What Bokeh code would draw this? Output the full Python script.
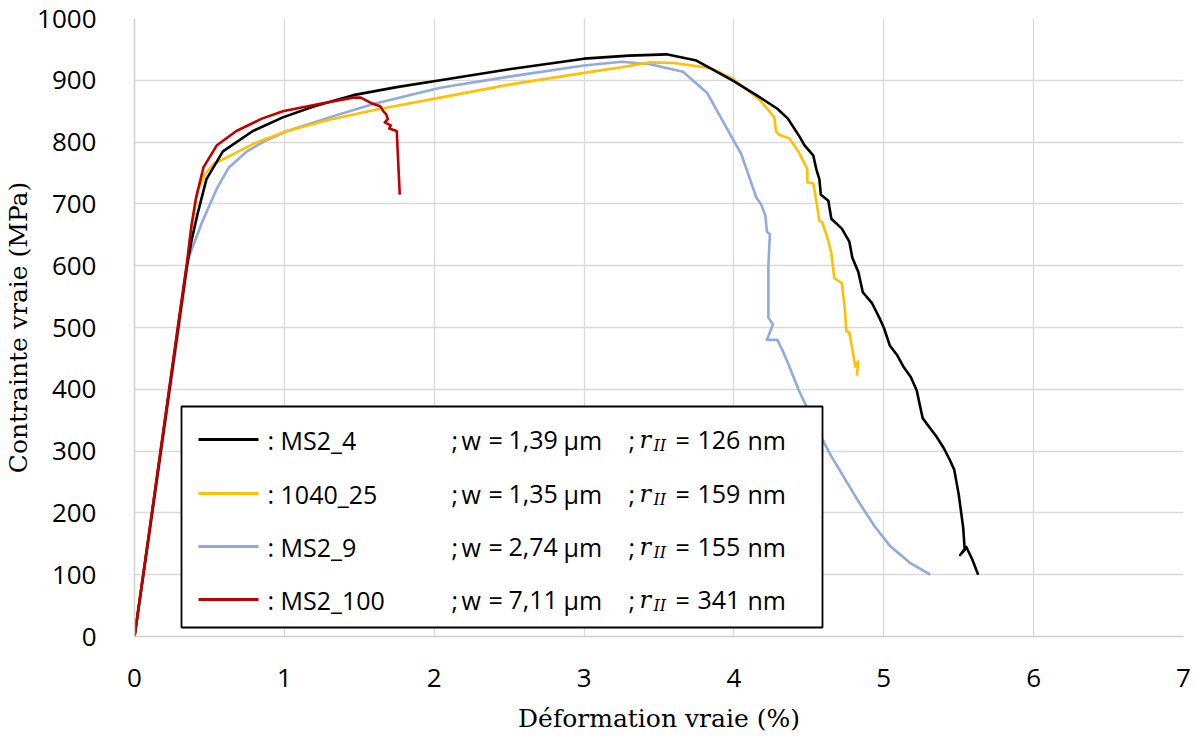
from bokeh.plotting import figure
from bokeh.models import BoxAnnotation, Arrow, Label, Range1d, FixedTicker
from bokeh.embed import file_html
from bokeh.resources import INLINE

# ---------------- data ----------------
ms2_4_x = [0, 0.10, 0.20, 0.30, 0.35, 0.38, 0.42, 0.48, 0.59, 0.79, 0.99, 1.20, 1.46, 1.75, 2.04, 2.50,
           3.00, 3.30, 3.55, 3.75, 3.99, 4.15, 4.29, 4.36, 4.44, 4.47, 4.53, 4.55, 4.57, 4.58, 4.63, 4.65,
           4.72, 4.77, 4.79, 4.83, 4.86, 4.92, 4.97, 5.00, 5.04, 5.09, 5.13, 5.18, 5.22, 5.24, 5.26, 5.30,
           5.35, 5.40, 5.44, 5.47, 5.50, 5.53, 5.54, 5.51, 5.55, 5.59, 5.63]
ms2_4_y = [0, 170, 343, 515, 600, 640, 683, 740, 785, 818, 840, 858, 876, 889, 900, 918,
           935, 940, 942, 932, 900, 876, 854, 838, 808, 795, 778, 756, 740, 715, 705, 676,
           660, 639, 613, 590, 557, 540, 516, 500, 471, 455, 437, 420, 398, 375, 353, 340,
           324, 305, 286, 270, 230, 176, 140, 132, 145, 125, 100]

y1040_25_x = [0, 0.10, 0.20, 0.30, 0.35, 0.38, 0.42, 0.47, 0.53, 0.64, 0.80, 1.02, 1.30, 1.60, 2.04, 2.50,
              3.00, 3.25, 3.44, 3.60, 3.84, 3.99, 4.17, 4.27, 4.28, 4.30, 4.37, 4.43, 4.49, 4.49, 4.53,
              4.55, 4.57, 4.59, 4.63, 4.65, 4.67, 4.72, 4.74, 4.75, 4.77, 4.79, 4.81, 4.83, 4.82]
y1040_25_y = [0, 172, 345, 518, 600, 660, 721, 748, 765, 778, 798, 818, 836, 852, 872, 893,
              912, 921, 929, 928, 920, 903, 869, 840, 818, 812, 806, 785, 756, 735, 733,
              704, 673, 670, 640, 620, 580, 572, 530, 494, 492, 465, 437, 445, 422]

ms2_9_x = [0, 0.10, 0.20, 0.30, 0.36, 0.45, 0.55, 0.63, 0.75, 0.88, 1.02, 1.30, 1.60, 2.04, 2.50,
           3.00, 3.25, 3.44, 3.66, 3.82, 3.99, 4.05, 4.10, 4.15, 4.18, 4.21, 4.22, 4.24, 4.23, 4.23,
           4.26, 4.22, 4.29, 4.33, 4.37, 4.43, 4.49, 4.56, 4.64, 4.74, 4.84, 4.94, 5.04, 5.17, 5.31]
ms2_9_y = [0, 165, 335, 505, 612, 670, 725, 759, 785, 803, 818, 840, 862, 888, 906,
           924, 930, 926, 914, 880, 806, 780, 745, 710, 700, 681, 655, 651, 600, 516,
           505, 480, 480, 460, 437, 400, 369, 333, 296, 255, 215, 178, 147, 120, 100]

ms2_100_x = [0, 0.10, 0.20, 0.30, 0.35, 0.38, 0.41, 0.46, 0.55, 0.68, 0.85, 0.99, 1.24, 1.46, 1.51,
             1.59, 1.64, 1.66, 1.68, 1.69, 1.67, 1.71, 1.70, 1.75, 1.77]
ms2_100_y = [0, 173, 346, 520, 605, 665, 709, 759, 795, 818, 838, 850, 862, 872, 872,
             862, 858, 850, 845, 837, 832, 827, 822, 818, 715]

names = ["MS2_4", "1040_25", "MS2_9", "MS2_100"]
w_values = ["1,39", "1,35", "2,74", "7,11"]
r_values = ["126", "159", "155", "341"]
colors = ["#000000", "#FFC000", "#8FAADC", "#C00000"]

x_ticks = [0, 1, 2, 3, 4, 5, 6, 7]
y_ticks = [0, 100, 200, 300, 400, 500, 600, 700, 800, 900, 1000]

# ---------------- figure ----------------
p = figure(width=1195, height=738, output_backend="svg", toolbar_location=None,
           x_range=Range1d(0, 7), y_range=Range1d(0, 1000),
           min_border_left=134, min_border_right=12, min_border_top=18, min_border_bottom=102)
p.outline_line_color = None
p.background_fill_color = "white"
p.border_fill_color = "white"

p.xaxis.ticker = FixedTicker(ticks=x_ticks)
p.yaxis.ticker = FixedTicker(ticks=y_ticks)
for g in (p.xgrid, p.ygrid):
    g.grid_line_color = "#D9D9D9"
    g.grid_line_width = 1.3

for ax in (p.xaxis, p.yaxis):
    ax.axis_line_color = "#D0D0D0"
    ax.axis_line_width = 1.5
    ax.major_tick_line_color = None
    ax.minor_tick_line_color = None
    ax.major_label_text_color = "#000000"
    ax.major_label_text_font = "Open Sans"
    ax.major_label_text_font_size = "26px"
    ax.axis_label_text_color = "#000000"
    ax.axis_label_text_font_style = "normal"
    ax.axis_label_text_font = "DejaVu Serif"
    ax.axis_label_text_font_size = "25px"

p.xaxis.axis_label = "Déformation vraie (%)"
p.yaxis.axis_label = "Contrainte vraie (MPa)"
p.xaxis.major_label_standoff = 26
p.yaxis.major_label_standoff = 32
p.xaxis.axis_label_standoff = 14
p.yaxis.axis_label_standoff = 1

series = [(ms2_9_x, ms2_9_y, colors[2]),
          (y1040_25_x, y1040_25_y, colors[1]),
          (ms2_4_x, ms2_4_y, colors[0]),
          (ms2_100_x, ms2_100_y, colors[3])]
for xs, ys, c in series:
    p.line(xs, ys, line_color=c, line_width=2.6, line_join="round")

# ---------------- legend (hand-built to allow italic subscript) ----------------
def dx(px):
    return (px - 134) * 7 / 1049

def dy(py):
    return (636 - py) * 1000 / 618

p.add_layout(BoxAnnotation(left=dx(181), right=dx(822), top=dy(406), bottom=dy(627),
                           fill_color="white", fill_alpha=1.0,
                           line_color="black", line_alpha=1.0, line_width=1.8, level="overlay"))
row_y = [439, 493, 546, 599]
for i in range(4):
    yy = dy(row_y[i])
    p.add_layout(Arrow(end=None, x_start=dx(198), x_end=dx(258), y_start=yy, y_end=yy,
                       line_color=colors[i], line_width=3, level="overlay"))
    common = dict(y=yy, text_baseline="middle", text_align="left", level="overlay",
                  text_color="black", text_font="Open Sans", text_font_size="25px")
    tokens = [(": " + names[i], 267), (";", 451), ("w", 461), ("=", 488), (w_values[i], 508),
              ("µm", 563), (";", 628), ("=", 675), (r_values[i], 697), ("nm", 747)]
    for txt, px in tokens:
        p.add_layout(Label(x=dx(px), text=txt, **common))
    p.add_layout(Label(x=dx(639), y=yy, text="r", text_font="DejaVu Serif", text_font_style="italic",
                       text_font_size="24px", text_baseline="middle", text_align="left",
                       level="overlay", text_color="black"))
    p.add_layout(Label(x=dx(653), y=dy(row_y[i] + 6), text="II", text_font="DejaVu Serif",
                       text_font_style="italic", text_font_size="16px", text_baseline="middle",
                       text_align="left", level="overlay", text_color="black"))

open("out.html", "w").write(file_html(p, INLINE))
